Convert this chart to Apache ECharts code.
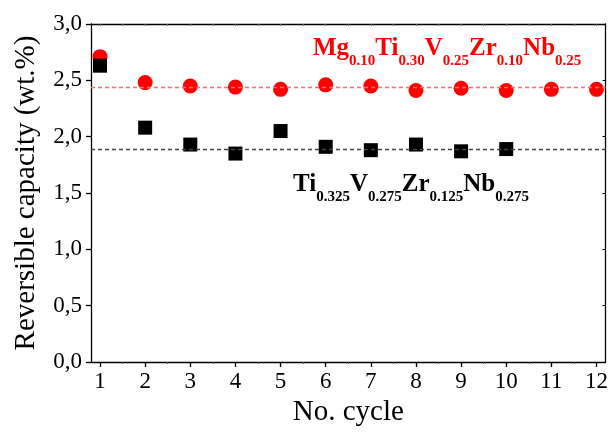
<!DOCTYPE html>
<html>
<head>
<meta charset="UTF-8">
<title>Reversible capacity</title>
<script src="https://cdn.jsdelivr.net/npm/echarts@6/dist/echarts.min.js"></script>
<style>
    html, body { margin: 0; padding: 0; background: #fff; }
    #chart { width: 611px; height: 435px; }
</style>
</head>
<body>
<div id="chart"></div>
<script>
    // data
    var cycles = [1, 2, 3, 4, 5, 6, 7, 8, 9, 10, 11, 12];
    var halfTicks = [1.5, 2.5, 3.5, 4.5, 5.5, 6.5, 7.5, 8.5, 9.5, 10.5, 11.5];
    var mgAlloy = [2.71, 2.48, 2.45, 2.44, 2.42, 2.46, 2.45, 2.41, 2.43, 2.41, 2.42, 2.42];
    var tiAlloy = [2.63, 2.08, 1.93, 1.85, 2.05, 1.91, 1.88, 1.93, 1.87, 1.89];
    var avgLines = [2.44, 1.89];

    var serif = "'Liberation Serif', 'DejaVu Serif', serif";

    function pairs(xs, ys) {
        var out = [];
        for (var i = 0; i < ys.length; i++) out.push([xs[i], ys[i]]);
        return out;
    }

    function richLabel(parts, color) {
        var s = '';
        for (var i = 0; i < parts.length; i++) {
            s += '{' + (i % 2 ? 's' : 'm') + '|' + parts[i] + '}';
        }
        return {
            text: s,
            fill: color,
            verticalAlign: 'middle',
            rich: {
                m: { fontFamily: serif, fontWeight: 'bold', fontSize: 25, lineHeight: 30, fill: color },
                s: { fontFamily: serif, fontWeight: 'bold', fontSize: 15, lineHeight: 15, padding: [24, 0, 0, 0], fill: color }
            }
        };
    }

    var chart = echarts.init(document.getElementById('chart'));

    var axisLine = { show: true, lineStyle: { color: '#000', width: 1.3 } };

    chart.setOption({
        animation: false,
        grid: { left: 91, right: 2, top: 24, bottom: 73 },
        xAxis: [{
            type: 'value', min: 0.8, max: 12.2,
            name: 'No. cycle', nameLocation: 'middle', nameGap: 36,
            nameTextStyle: { fontFamily: serif, fontSize: 29, color: '#000' },
            axisLine: axisLine,
            axisTick: { show: true, inside: false, length: 5, customValues: cycles, lineStyle: { color: '#000', width: 1.3 } },
            axisLabel: { customValues: cycles, fontFamily: serif, fontSize: 23, color: '#000', margin: 8 },
            splitLine: { show: false }
        }, {
            type: 'value', min: 0.8, max: 12.2, position: 'bottom',
            axisLine: { show: false },
            axisTick: { show: true, inside: false, length: 2, customValues: halfTicks, lineStyle: { color: '#555', width: 1 } },
            axisLabel: { show: false },
            splitLine: { show: false }
        }, {
            type: 'value', min: 0.8, max: 12.2, position: 'top',
            axisLine: axisLine,
            axisTick: { show: true, inside: true, length: 2, customValues: cycles.concat(halfTicks), lineStyle: { color: '#777', width: 1 } },
            axisLabel: { show: false },
            splitLine: { show: false }
        }],
        yAxis: [{
            type: 'value', min: 0, max: 3, interval: 0.5,
            name: 'Reversible capacity (wt.%)', nameLocation: 'middle', nameGap: 50,
            nameTextStyle: { fontFamily: serif, fontSize: 29, color: '#000' },
            axisLine: axisLine,
            axisTick: { show: true, inside: false, length: 5, lineStyle: { color: '#000', width: 1.3 } },
            axisLabel: {
                fontFamily: serif, fontSize: 23, color: '#000', margin: 9,
                formatter: function (v) { return v.toFixed(1).replace('.', ','); }
            },
            splitLine: { show: false }
        }, {
            type: 'value', min: 0, max: 3, interval: 0.5, position: 'right',
            axisLine: axisLine,
            axisTick: { show: true, inside: true, length: 3, lineStyle: { color: '#000', width: 1 } },
            axisLabel: { show: false },
            splitLine: { show: false }
        }],
        series: [{
            type: 'scatter',
            symbol: 'circle', symbolSize: 15,
            itemStyle: { color: '#ff0000', opacity: 1 },
            data: pairs(cycles, mgAlloy),
            markLine: {
                silent: true, symbol: 'none', label: { show: false },
                lineStyle: { color: '#ff6b6b', type: [4, 3], width: 1.3 },
                data: [{ yAxis: avgLines[0] }]
            }
        }, {
            type: 'scatter',
            symbol: 'rect', symbolSize: 14,
            itemStyle: { color: '#000', opacity: 1 },
            data: pairs(cycles, tiAlloy),
            markLine: {
                silent: true, symbol: 'none', label: { show: false },
                lineStyle: { color: '#444', type: [4, 3], width: 1.3 },
                data: [{ yAxis: avgLines[1] }]
            }
        }],
        graphic: [{
            type: 'text', x: 313, y: 49, z: 10,
            style: richLabel(['Mg', '0.10', 'Ti', '0.30', 'V', '0.25', 'Zr', '0.10', 'Nb', '0.25'], '#ff0000')
        }, {
            type: 'text', x: 293, y: 185, z: 10,
            style: richLabel(['Ti', '0.325', 'V', '0.275', 'Zr', '0.125', 'Nb', '0.275'], '#000')
        }]
    });
</script>
</body>
</html>
